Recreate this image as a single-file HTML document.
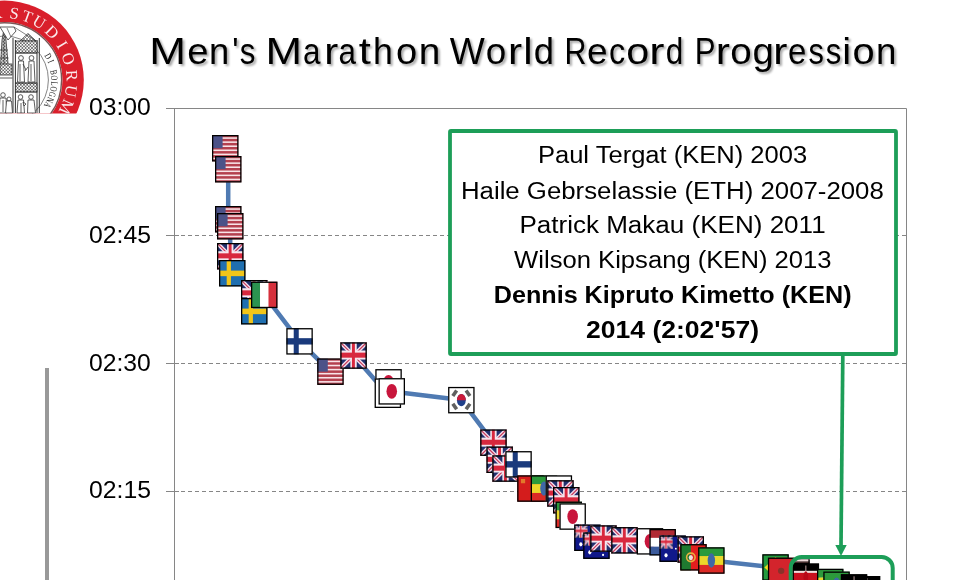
<!DOCTYPE html>
<html><head><meta charset="utf-8">
<style>
html,body{margin:0;padding:0;background:#fff;}
svg{display:block;will-change:transform;}
</style></head><body>
<svg width="960" height="580" viewBox="0 0 960 580">
<defs>
<symbol id="fUSA" viewBox="0 0 100 100" preserveAspectRatio="none"><rect width="100" height="100" fill="#b4404e"/><rect y="8.59" width="100" height="5.89" fill="#f8e4e8"/><rect y="23.98" width="100" height="5.89" fill="#f8e4e8"/><rect y="39.36" width="100" height="5.89" fill="#f8e4e8"/><rect y="54.75" width="100" height="5.89" fill="#f8e4e8"/><rect y="70.13" width="100" height="5.89" fill="#f8e4e8"/><rect y="85.52" width="100" height="5.89" fill="#f8e4e8"/><rect width="40" height="50" fill="#4c5288"/></symbol><symbol id="fUK" viewBox="0 0 100 100" preserveAspectRatio="none"><rect width="100" height="100" fill="#22306e"/><path d="M0,0 L100,100 M100,0 L0,100" stroke="#f0dcea" stroke-width="15"/><path d="M0,0 L100,100 M100,0 L0,100" stroke="#c83a5a" stroke-width="4.5"/><rect x="38" y="0" width="24" height="100" fill="#f6e6ee"/><rect x="0" y="31" width="100" height="34" fill="#f6e6ee"/><rect x="44" y="0" width="11" height="100" fill="#d8283e"/><rect x="0" y="39" width="100" height="19" fill="#d8283e"/></symbol><symbol id="fSWE" viewBox="0 0 100 100" preserveAspectRatio="none"><rect width="100" height="100" fill="#1f6fb0"/><rect x="29" width="16" height="100" fill="#f2c61a"/><rect y="40" width="100" height="21" fill="#f2c61a"/></symbol><symbol id="fITA" viewBox="0 0 100 100" preserveAspectRatio="none"><rect width="100" height="100" fill="#fff"/><rect width="34" height="100" fill="#2b9350"/><rect x="66" width="34" height="100" fill="#d6303c"/></symbol><symbol id="fFIN" viewBox="0 0 100 100" preserveAspectRatio="none"><rect width="100" height="100" fill="#fff"/><rect x="28" width="19" height="100" fill="#1a3a7c"/><rect y="38" width="100" height="24" fill="#1a3a7c"/></symbol><symbol id="fJPN" viewBox="0 0 100 100" preserveAspectRatio="none"><rect width="100" height="100" fill="#fff"/><ellipse cx="50" cy="50" rx="20" ry="28" fill="#c8163c"/></symbol><symbol id="fKOR" viewBox="0 0 100 100" preserveAspectRatio="none"><rect width="100" height="100" fill="#fff"/><ellipse cx="50" cy="50" rx="16.6" ry="23.4" fill="#1f3f8a"/><path d="M33.4,50 A16.6,23.4 0 0 1 66.6,50Z" fill="#cc1a3a"/><rect x="18.2" y="11.5" width="13.6" height="25" fill="#606060" transform="rotate(35 25 24)"/><rect x="68.2" y="11.5" width="13.6" height="25" fill="#606060" transform="rotate(-35 75 24)"/><rect x="18.2" y="61.5" width="13.6" height="25" fill="#606060" transform="rotate(-35 25 74)"/><rect x="68.2" y="61.5" width="13.6" height="25" fill="#606060" transform="rotate(35 75 74)"/></symbol><symbol id="fURS" viewBox="0 0 100 100" preserveAspectRatio="none"><rect width="100" height="100" fill="#d41c1c"/><path d="M14,14 L30,14 L30,30 L14,30Z" fill="#e8a030" opacity="0.7"/></symbol><symbol id="fETH" viewBox="0 0 100 100" preserveAspectRatio="none"><rect width="100" height="34" fill="#2c9a3c"/><rect y="33.3" width="100" height="34" fill="#ecd82a"/><rect y="66.6" width="100" height="33.4" fill="#dc2a26"/><ellipse cx="50" cy="50" rx="14" ry="27" fill="#3f68a6"/></symbol><symbol id="fAUS" viewBox="0 0 100 100" preserveAspectRatio="none"><rect width="100" height="100" fill="#10188a"/><svg width="50" height="50" viewBox="0 0 100 100" preserveAspectRatio="none"><rect width="100" height="100" fill="#22306e"/><path d="M0,0 L100,100 M100,0 L0,100" stroke="#f0dcea" stroke-width="15"/><path d="M0,0 L100,100 M100,0 L0,100" stroke="#c83a5a" stroke-width="4.5"/><rect x="38" y="0" width="24" height="100" fill="#f6e6ee"/><rect x="0" y="31" width="100" height="34" fill="#f6e6ee"/><rect x="44" y="0" width="11" height="100" fill="#d8283e"/><rect x="0" y="39" width="100" height="19" fill="#d8283e"/></svg><ellipse cx="25" cy="75" rx="6" ry="8" fill="#fff"/><circle cx="75" cy="25" r="3.5" fill="#fff"/><circle cx="62" cy="50" r="3.5" fill="#fff"/><circle cx="88" cy="45" r="3.5" fill="#fff"/><circle cx="75" cy="85" r="4" fill="#fff"/></symbol><symbol id="fNED" viewBox="0 0 100 100" preserveAspectRatio="none"><rect width="100" height="34" fill="#b02a34"/><rect y="33.3" width="100" height="34" fill="#fff"/><rect y="66.6" width="100" height="33.4" fill="#3a5a9c"/></symbol><symbol id="fPOR" viewBox="0 0 100 100" preserveAspectRatio="none"><rect width="100" height="100" fill="#e21e1e"/><rect width="40" height="100" fill="#1f7a30"/><circle cx="40" cy="50" r="16" fill="none" stroke="#e8b040" stroke-width="6"/><ellipse cx="40" cy="51" rx="8" ry="10" fill="#f0e0e0"/></symbol><symbol id="fBRA" viewBox="0 0 100 100" preserveAspectRatio="none"><rect width="100" height="100" fill="#239a3e"/><path d="M8,50 L50,10 L92,50 L50,90Z" fill="#f0e020"/><circle cx="50" cy="50" r="20" fill="#203a8a"/></symbol><symbol id="fMAR" viewBox="0 0 100 100" preserveAspectRatio="none"><rect width="100" height="100" fill="#d3242c"/><circle cx="50" cy="50" r="12" fill="#5a3a2a" opacity="0.6"/></symbol><symbol id="fKEN" viewBox="0 0 100 100" preserveAspectRatio="none"><rect width="100" height="100" fill="#000"/><rect y="28" width="100" height="8" fill="#f4dede"/><rect y="36" width="100" height="30" fill="#c8101e"/><rect y="66" width="100" height="8" fill="#f4f4f4"/><rect y="74" width="100" height="26" fill="#1a7a3a"/><path d="M50,8 V95" stroke="#f0c8c8" stroke-width="3"/><ellipse cx="50" cy="52" rx="9" ry="22" fill="#b80818"/></symbol><symbol id="fKEN0" viewBox="0 0 100 100" preserveAspectRatio="none"><rect width="100" height="100" fill="#000"/><rect width="100" height="9" fill="#f0dcdc"/><rect y="9" width="100" height="4" fill="#604040"/><rect y="36" width="100" height="8" fill="#f4dede"/><rect y="44" width="100" height="28" fill="#c8101e"/><rect y="72" width="100" height="8" fill="#f4f4f4"/><rect y="80" width="100" height="20" fill="#1a7a3a"/></symbol>
  <clipPath id="logoclip"><rect x="0" y="0" width="90" height="113.5"/></clipPath>
  <pattern id="hatch3" width="3.2" height="3.2" patternUnits="userSpaceOnUse"><rect width="3.2" height="3.2" fill="#fff"/><path d="M0,3.2 L3.2,0 M0,0 L3.2,3.2" stroke="#333" stroke-width="0.6"/></pattern>
  <pattern id="hatch2" width="2.5" height="2.5" patternUnits="userSpaceOnUse"><rect width="2.5" height="2.5" fill="#fff"/><path d="M0,2.5 L2.5,0 M0,0 L2.5,2.5" stroke="#444" stroke-width="0.7"/></pattern>
  <pattern id="hatch" width="3" height="3" patternUnits="userSpaceOnUse"><path d="M0,3 L3,0 M0,0 L3,3" stroke="#555" stroke-width="0.6"/></pattern>
  <filter id="tshadow" x="-5%" y="-20%" width="110%" height="150%">
    <feGaussianBlur in="SourceAlpha" stdDeviation="1.2"/>
    <feOffset dx="1.5" dy="1.5" result="b"/>
    <feComponentTransfer><feFuncA type="linear" slope="0.35"/></feComponentTransfer>
    <feMerge><feMergeNode/><feMergeNode in="SourceGraphic"/></feMerge>
  </filter>
</defs>
<rect width="960" height="580" fill="#fff"/>

<g clip-path="url(#logoclip)">
  <circle cx="4.4" cy="80" r="79.4" fill="#d91f2b"/>
  <circle cx="4.4" cy="80" r="58" fill="#ffffff"/>
  <circle cx="4.4" cy="80" r="57.2" fill="none" stroke="#7a5555" stroke-width="1.4"/>
  <circle cx="4.4" cy="80" r="44" fill="none" stroke="#666" stroke-width="0.8"/>
  <text x="0" y="5.45" text-anchor="middle" transform="translate(-3.83,13.00) rotate(-7.0) scale(1.0,1)" font-family="Liberation Serif" font-size="16.5" fill="#fbe8ea">R</text><text x="0" y="5.45" text-anchor="middle" transform="translate(14.26,13.22) rotate(8.4) scale(1.0,1)" font-family="Liberation Serif" font-size="16.5" fill="#fbe8ea">S</text><text x="0" y="5.45" text-anchor="middle" transform="translate(27.26,16.49) rotate(19.8) scale(1.0,1)" font-family="Liberation Serif" font-size="16.5" fill="#fbe8ea">T</text><text x="0" y="5.45" text-anchor="middle" transform="translate(39.27,22.20) rotate(31.1) scale(1.0,1)" font-family="Liberation Serif" font-size="16.5" fill="#fbe8ea">U</text><text x="0" y="5.45" text-anchor="middle" transform="translate(51.96,32.10) rotate(44.8) scale(1.0,1)" font-family="Liberation Serif" font-size="16.5" fill="#fbe8ea">D</text><text x="0" y="5.45" text-anchor="middle" transform="translate(62.01,44.83) rotate(58.6) scale(1.0,1)" font-family="Liberation Serif" font-size="16.5" fill="#fbe8ea">I</text><text x="0" y="5.45" text-anchor="middle" transform="translate(68.41,58.58) rotate(71.5) scale(1.0,1)" font-family="Liberation Serif" font-size="16.5" fill="#fbe8ea">O</text><text x="0" y="5.45" text-anchor="middle" transform="translate(71.74,75.29) rotate(86.0) scale(1.0,1)" font-family="Liberation Serif" font-size="16.5" fill="#fbe8ea">R</text><text x="0" y="5.45" text-anchor="middle" transform="translate(70.97,91.14) rotate(99.5) scale(1.0,1)" font-family="Liberation Serif" font-size="16.5" fill="#fbe8ea">U</text><text x="0" y="5.45" text-anchor="middle" transform="translate(66.30,106.92) rotate(113.5) scale(1.0,1)" font-family="Liberation Serif" font-size="16.5" fill="#fbe8ea">M</text>
  <text x="0" y="3.17" text-anchor="middle" transform="translate(48.34,56.14) rotate(61.5) scale(0.72,1)" font-family="Liberation Serif" font-size="9.6" fill="#1a1a1a">D</text><text x="0" y="3.17" text-anchor="middle" transform="translate(50.76,61.27) rotate(68.0) scale(0.72,1)" font-family="Liberation Serif" font-size="9.6" fill="#1a1a1a">I</text><text x="0" y="3.17" text-anchor="middle" transform="translate(52.58,66.64) rotate(74.5) scale(0.72,1)" font-family="Liberation Serif" font-size="9.6" fill="#1a1a1a"> </text><text x="0" y="3.17" text-anchor="middle" transform="translate(53.78,72.18) rotate(81.0) scale(0.72,1)" font-family="Liberation Serif" font-size="9.6" fill="#1a1a1a">B</text><text x="0" y="3.17" text-anchor="middle" transform="translate(54.35,77.82) rotate(87.5) scale(0.72,1)" font-family="Liberation Serif" font-size="9.6" fill="#1a1a1a">O</text><text x="0" y="3.17" text-anchor="middle" transform="translate(54.28,83.49) rotate(94.0) scale(0.72,1)" font-family="Liberation Serif" font-size="9.6" fill="#1a1a1a">L</text><text x="0" y="3.17" text-anchor="middle" transform="translate(53.56,89.11) rotate(100.5) scale(0.72,1)" font-family="Liberation Serif" font-size="9.6" fill="#1a1a1a">O</text><text x="0" y="3.17" text-anchor="middle" transform="translate(52.22,94.62) rotate(107.0) scale(0.72,1)" font-family="Liberation Serif" font-size="9.6" fill="#1a1a1a">G</text><text x="0" y="3.17" text-anchor="middle" transform="translate(50.25,99.94) rotate(113.5) scale(0.72,1)" font-family="Liberation Serif" font-size="9.6" fill="#1a1a1a">N</text><text x="0" y="3.17" text-anchor="middle" transform="translate(47.70,105.00) rotate(120.0) scale(0.72,1)" font-family="Liberation Serif" font-size="9.6" fill="#1a1a1a">A</text>
  <g stroke="#333" stroke-width="0.8" fill="none">
    <path d="M13,113 V38 M39.3,113 V38 M15.4,113 V40 M37,113 V40" stroke-width="1"/>
    <path d="M20,41 L28,33.5 L36,41 Z" fill="url(#hatch)"/>
    <rect x="15.4" y="41" width="21.6" height="12" fill="url(#hatch3)"/>
    <rect x="15.4" y="83" width="21.6" height="9" fill="url(#hatch3)"/>
    <path d="M15,53 H37 M15,83 H37 M15,92 H37"/>
    <g fill="#fff" stroke="#2a2a2a" stroke-width="0.75">
      <circle cx="21" cy="58" r="2.4"/><path d="M18.5,61 h5 l1,21 h-7z M20,64 v17 M23,64 l3,6"/>
      <circle cx="31.5" cy="58" r="2.4"/><path d="M29,61 h5 l1,21 h-7z M31,64 v17 M28,67 l-3,4"/>
      <circle cx="20.5" cy="97" r="2.3"/><path d="M18,100 h5.5 l1,13 h-7.5z M21,103 v10"/>
      <circle cx="31" cy="97" r="2.3"/><path d="M28,100 h6 l1.5,13 h-8z M26,104 l-3,-2 l1,4z"/>
      <circle cx="3" cy="95" r="2.3"/><path d="M0,98 h6 l1,15 h-8z M3,100 v12"/>
      <circle cx="9" cy="99" r="2"/><path d="M6.5,101 h5 l1,12 h-7z"/>
    </g>
    <path d="M0,75 L2,40 L4,29 L6,40 L9,75" fill="url(#hatch3)"/><path d="M0,50 H8 M0,58 H8.5 M4,29 V75"/>
    <rect x="0" y="64" width="12" height="11" fill="url(#hatch3)"/>
    <path d="M0,27 L14,27 L16,31 L8,40 Z" fill="#fff"/>
    <path d="M7,28 L11,37 M14,27 L36,41" stroke-width="0.6"/>
    <path d="M0,78 H12.5"/>
  </g>
</g>
<g font-family="Liberation Sans" fill="#000" filter="url(#tshadow)"><text x="149.32" y="64" font-size="37.5" textLength="36.74" lengthAdjust="spacingAndGlyphs">M</text><text x="187.32" y="64" font-size="37.5" textLength="21.24" lengthAdjust="spacingAndGlyphs">e</text><text x="208.99" y="64" font-size="37.5" textLength="20.22" lengthAdjust="spacingAndGlyphs">n</text><text x="232.21" y="64" font-size="37.5" textLength="6.26" lengthAdjust="spacingAndGlyphs">&apos;</text><text x="239.76" y="64" font-size="37.5" textLength="15.63" lengthAdjust="spacingAndGlyphs">s</text><text x="265.49" y="64" font-size="37.5" textLength="36.55" lengthAdjust="spacingAndGlyphs">M</text><text x="303.11" y="64" font-size="37.5" textLength="17.46" lengthAdjust="spacingAndGlyphs">a</text><text x="324.27" y="64" font-size="37.5" textLength="13.99" lengthAdjust="spacingAndGlyphs">r</text><text x="338.51" y="64" font-size="37.5" textLength="17.46" lengthAdjust="spacingAndGlyphs">a</text><text x="358.85" y="64" font-size="37.5" textLength="12.09" lengthAdjust="spacingAndGlyphs">t</text><text x="372.90" y="64" font-size="37.5" textLength="19.86" lengthAdjust="spacingAndGlyphs">h</text><text x="396.08" y="64" font-size="37.5" textLength="21.19" lengthAdjust="spacingAndGlyphs">o</text><text x="418.88" y="64" font-size="37.5" textLength="21.59" lengthAdjust="spacingAndGlyphs">n</text><text x="449.81" y="64" font-size="37.5" textLength="35.03" lengthAdjust="spacingAndGlyphs">W</text><text x="485.73" y="64" font-size="37.5" textLength="20.49" lengthAdjust="spacingAndGlyphs">o</text><text x="507.94" y="64" font-size="37.5" textLength="14.12" lengthAdjust="spacingAndGlyphs">r</text><text x="523.36" y="64" font-size="37.5" textLength="9.38" lengthAdjust="spacingAndGlyphs">l</text><text x="533.84" y="64" font-size="37.5" textLength="20.27" lengthAdjust="spacingAndGlyphs">d</text><text x="564.47" y="64" font-size="37.5" textLength="21.97" lengthAdjust="spacingAndGlyphs">R</text><text x="587.12" y="64" font-size="37.5" textLength="20.59" lengthAdjust="spacingAndGlyphs">e</text><text x="608.90" y="64" font-size="37.5" textLength="16.21" lengthAdjust="spacingAndGlyphs">c</text><text x="626.15" y="64" font-size="37.5" textLength="22.95" lengthAdjust="spacingAndGlyphs">o</text><text x="649.24" y="64" font-size="37.5" textLength="15.19" lengthAdjust="spacingAndGlyphs">r</text><text x="665.84" y="64" font-size="37.5" textLength="17.55" lengthAdjust="spacingAndGlyphs">d</text><text x="694.80" y="64" font-size="37.5" textLength="20.82" lengthAdjust="spacingAndGlyphs">P</text><text x="715.82" y="64" font-size="37.5" textLength="14.25" lengthAdjust="spacingAndGlyphs">r</text><text x="730.26" y="64" font-size="37.5" textLength="21.43" lengthAdjust="spacingAndGlyphs">o</text><text x="752.56" y="64" font-size="37.5" textLength="21.38" lengthAdjust="spacingAndGlyphs">g</text><text x="773.34" y="64" font-size="37.5" textLength="14.12" lengthAdjust="spacingAndGlyphs">r</text><text x="787.88" y="64" font-size="37.5" textLength="18.34" lengthAdjust="spacingAndGlyphs">e</text><text x="808.38" y="64" font-size="37.5" textLength="15.40" lengthAdjust="spacingAndGlyphs">s</text><text x="825.87" y="64" font-size="37.5" textLength="15.52" lengthAdjust="spacingAndGlyphs">s</text><text x="842.30" y="64" font-size="37.5" textLength="8.89" lengthAdjust="spacingAndGlyphs">i</text><text x="852.61" y="64" font-size="37.5" textLength="22.13" lengthAdjust="spacingAndGlyphs">o</text><text x="875.91" y="64" font-size="37.5" textLength="20.41" lengthAdjust="spacingAndGlyphs">n</text></g>

<g font-family="Liberation Sans" fill="#000"><text x="89.01" y="114.5" font-size="24" textLength="61.81" lengthAdjust="spacingAndGlyphs">03:00</text><text x="89.01" y="242.5" font-size="24" textLength="61.94" lengthAdjust="spacingAndGlyphs">02:45</text><text x="89.01" y="370.5" font-size="24" textLength="61.81" lengthAdjust="spacingAndGlyphs">02:30</text><text x="89.01" y="497.5" font-size="24" textLength="61.94" lengthAdjust="spacingAndGlyphs">02:15</text></g>
<rect x="45" y="368" width="4" height="212" fill="#999"/>

<g stroke="#868686" stroke-width="1" fill="none">
  <path d="M166,108.5 H906.5 V580 M174.5,108.5 V580"/>
  <path d="M166,235.5 H179 M166,363.5 H179 M166,491.5 H179"/>
  <path d="M181,235.5 H906 M181,363.5 H906 M181,491.5 H906" stroke-dasharray="4 3"/>
</g>

<polyline points="225.2,148.2 228.2,169.2 228.2,219.2 230.2,226.2 230.2,256.2 232.2,273.2 254.2,293.2 254.2,311.2 264.2,294.9 299.6,341.4 330.4,371.6 353.6,355.6 387.9,394.8 388.6,382.4 391.8,391.4 461.4,400.1 493.4,442.6 499.6,459.8 505.6,468.6 518.5,464.4 530.5,488.6 544.0,488.6 558.9,488.6 560.5,493.4 566.2,500.2 568.8,514.9 572.6,516.5 587.5,537.8 596.5,545.6 603.5,538.5 624.5,540.4 650.0,541.4 662.6,542.2 672.6,548.6 690.8,549.5 693.5,557.4 711.4,560.5 775.5,567.5 796.5,572.5 781.1,570.9 805.9,576.6 830.2,582.0 836.5,584.8 867.0,589.2 854.0,587.5" fill="none" stroke="#4f7ab2" stroke-width="4.5" stroke-linejoin="round"/>

<use href="#fUSA" x="212.00" y="135.00" width="26.5" height="26.5"/><rect x="212.65" y="135.65" width="25.20" height="25.20" fill="none" stroke="#000" stroke-width="1.3"/>
<use href="#fUSA" x="215.00" y="156.00" width="26.5" height="26.5"/><rect x="215.65" y="156.65" width="25.20" height="25.20" fill="none" stroke="#000" stroke-width="1.3"/>
<use href="#fUSA" x="215.00" y="206.00" width="26.5" height="26.5"/><rect x="215.65" y="206.65" width="25.20" height="25.20" fill="none" stroke="#000" stroke-width="1.3"/>
<use href="#fUSA" x="217.00" y="213.00" width="26.5" height="26.5"/><rect x="217.65" y="213.65" width="25.20" height="25.20" fill="none" stroke="#000" stroke-width="1.3"/>
<use href="#fUK" x="217.00" y="243.00" width="26.5" height="26.5"/><rect x="217.65" y="243.65" width="25.20" height="25.20" fill="none" stroke="#000" stroke-width="1.3"/>
<use href="#fSWE" x="219.00" y="260.00" width="26.5" height="26.5"/><rect x="219.65" y="260.65" width="25.20" height="25.20" fill="none" stroke="#000" stroke-width="1.3"/>
<use href="#fUK" x="241.00" y="280.00" width="26.5" height="26.5"/><rect x="241.65" y="280.65" width="25.20" height="25.20" fill="none" stroke="#000" stroke-width="1.3"/>
<use href="#fSWE" x="241.00" y="298.00" width="26.5" height="26.5"/><rect x="241.65" y="298.65" width="25.20" height="25.20" fill="none" stroke="#000" stroke-width="1.3"/>
<use href="#fITA" x="251.00" y="281.60" width="26.5" height="26.5"/><rect x="251.65" y="282.25" width="25.20" height="25.20" fill="none" stroke="#000" stroke-width="1.3"/>
<use href="#fFIN" x="286.30" y="328.10" width="26.5" height="26.5"/><rect x="286.95" y="328.75" width="25.20" height="25.20" fill="none" stroke="#000" stroke-width="1.3"/>
<use href="#fUSA" x="317.20" y="358.40" width="26.5" height="26.5"/><rect x="317.85" y="359.05" width="25.20" height="25.20" fill="none" stroke="#000" stroke-width="1.3"/>
<use href="#fUK" x="340.30" y="342.30" width="26.5" height="26.5"/><rect x="340.95" y="342.95" width="25.20" height="25.20" fill="none" stroke="#000" stroke-width="1.3"/>
<use href="#fJPN" x="375.30" y="369.10" width="26.5" height="26.5"/><rect x="375.95" y="369.75" width="25.20" height="25.20" fill="none" stroke="#000" stroke-width="1.3"/>
<use href="#fJPN" x="374.60" y="378.40" width="26.5" height="29.6"/><rect x="375.25" y="379.05" width="25.20" height="28.30" fill="none" stroke="#000" stroke-width="1.3"/>
<use href="#fJPN" x="378.50" y="378.10" width="26.5" height="26.5"/><rect x="379.15" y="378.75" width="25.20" height="25.20" fill="none" stroke="#000" stroke-width="1.3"/>
<use href="#fKOR" x="448.10" y="386.90" width="26.5" height="26.5"/><rect x="448.75" y="387.55" width="25.20" height="25.20" fill="none" stroke="#000" stroke-width="1.3"/>
<use href="#fUK" x="480.20" y="429.40" width="26.5" height="26.5"/><rect x="480.85" y="430.05" width="25.20" height="25.20" fill="none" stroke="#000" stroke-width="1.3"/>
<use href="#fUK" x="486.40" y="446.50" width="26.5" height="26.5"/><rect x="487.05" y="447.15" width="25.20" height="25.20" fill="none" stroke="#000" stroke-width="1.3"/>
<use href="#fUK" x="492.30" y="455.30" width="26.5" height="26.5"/><rect x="492.95" y="455.95" width="25.20" height="25.20" fill="none" stroke="#000" stroke-width="1.3"/>
<use href="#fFIN" x="505.30" y="451.10" width="26.5" height="26.5"/><rect x="505.95" y="451.75" width="25.20" height="25.20" fill="none" stroke="#000" stroke-width="1.3"/>
<use href="#fURS" x="517.20" y="475.30" width="26.5" height="26.5"/><rect x="517.85" y="475.95" width="25.20" height="25.20" fill="none" stroke="#000" stroke-width="1.3"/>
<use href="#fETH" x="530.70" y="475.30" width="26.5" height="26.5"/><rect x="531.35" y="475.95" width="25.20" height="25.20" fill="none" stroke="#000" stroke-width="1.3"/>
<use href="#fJPN" x="545.60" y="475.30" width="26.5" height="26.5"/><rect x="546.25" y="475.95" width="25.20" height="25.20" fill="none" stroke="#000" stroke-width="1.3"/>
<use href="#fUK" x="547.20" y="480.20" width="26.5" height="26.5"/><rect x="547.85" y="480.85" width="25.20" height="25.20" fill="none" stroke="#000" stroke-width="1.3"/>
<use href="#fUK" x="553.00" y="487.00" width="26.5" height="26.5"/><rect x="553.65" y="487.65" width="25.20" height="25.20" fill="none" stroke="#000" stroke-width="1.3"/>
<use href="#fETH" x="555.50" y="501.60" width="26.5" height="26.5"/><rect x="556.15" y="502.25" width="25.20" height="25.20" fill="none" stroke="#000" stroke-width="1.3"/>
<use href="#fJPN" x="559.40" y="503.30" width="26.5" height="26.5"/><rect x="560.05" y="503.95" width="25.20" height="25.20" fill="none" stroke="#000" stroke-width="1.3"/>
<use href="#fAUS" x="574.20" y="524.50" width="26.5" height="26.5"/><rect x="574.85" y="525.15" width="25.20" height="25.20" fill="none" stroke="#000" stroke-width="1.3"/>
<use href="#fAUS" x="583.20" y="532.40" width="26.5" height="26.5"/><rect x="583.85" y="533.05" width="25.20" height="25.20" fill="none" stroke="#000" stroke-width="1.3"/>
<use href="#fUK" x="590.20" y="525.30" width="26.5" height="26.5"/><rect x="590.85" y="525.95" width="25.20" height="25.20" fill="none" stroke="#000" stroke-width="1.3"/>
<use href="#fUK" x="611.20" y="527.10" width="26.5" height="26.5"/><rect x="611.85" y="527.75" width="25.20" height="25.20" fill="none" stroke="#000" stroke-width="1.3"/>
<use href="#fJPN" x="636.70" y="528.10" width="26.5" height="26.5"/><rect x="637.35" y="528.75" width="25.20" height="25.20" fill="none" stroke="#000" stroke-width="1.3"/>
<use href="#fNED" x="649.40" y="529.00" width="26.5" height="26.5"/><rect x="650.05" y="529.65" width="25.20" height="25.20" fill="none" stroke="#000" stroke-width="1.3"/>
<use href="#fAUS" x="659.40" y="535.40" width="26.5" height="26.5"/><rect x="660.05" y="536.05" width="25.20" height="25.20" fill="none" stroke="#000" stroke-width="1.3"/>
<use href="#fUK" x="677.50" y="536.25" width="26.5" height="26.5"/><rect x="678.15" y="536.90" width="25.20" height="25.20" fill="none" stroke="#000" stroke-width="1.3"/>
<use href="#fPOR" x="680.25" y="544.10" width="26.5" height="26.5"/><rect x="680.90" y="544.75" width="25.20" height="25.20" fill="none" stroke="#000" stroke-width="1.3"/>
<use href="#fETH" x="698.10" y="547.25" width="26.5" height="26.5"/><rect x="698.75" y="547.90" width="25.20" height="25.20" fill="none" stroke="#000" stroke-width="1.3"/>
<use href="#fBRA" x="762.30" y="554.25" width="26.5" height="26.5"/><rect x="762.95" y="554.90" width="25.20" height="25.20" fill="none" stroke="#000" stroke-width="1.3"/>
<use href="#fKEN0" x="783.20" y="559.25" width="26.5" height="26.5"/><path d="M783.85,559.25 V585.10 H809.05 V559.25" fill="none" stroke="#000" stroke-width="1.3"/>
<use href="#fMAR" x="767.90" y="557.60" width="26.5" height="26.5"/><rect x="768.55" y="558.25" width="25.20" height="25.20" fill="none" stroke="#000" stroke-width="1.3"/>
<use href="#fKEN" x="792.60" y="563.40" width="26.5" height="26.5"/><rect x="793.25" y="564.05" width="25.20" height="25.20" fill="none" stroke="#000" stroke-width="1.3"/>
<use href="#fETH" x="817.00" y="568.75" width="26.5" height="26.5"/><rect x="817.65" y="569.40" width="25.20" height="25.20" fill="none" stroke="#000" stroke-width="1.3"/>
<use href="#fETH" x="823.30" y="571.50" width="26.5" height="26.5"/><rect x="823.95" y="572.15" width="25.20" height="25.20" fill="none" stroke="#000" stroke-width="1.3"/>
<use href="#fKEN" x="853.80" y="576.00" width="26.5" height="26.5"/><rect x="854.45" y="576.65" width="25.20" height="25.20" fill="none" stroke="#000" stroke-width="1.3"/>
<use href="#fKEN" x="840.80" y="574.20" width="26.5" height="26.5"/><rect x="841.45" y="574.85" width="25.20" height="25.20" fill="none" stroke="#000" stroke-width="1.3"/>

<rect x="450" y="131" width="446" height="223" rx="1" fill="#fff" stroke="#1d9e58" stroke-width="3.8"/>
<g font-family="Liberation Sans" fill="#000"><text x="537.96" y="162.9" font-size="23" textLength="269.15" lengthAdjust="spacingAndGlyphs">Paul Tergat (KEN) 2003</text><text x="460.94" y="198.5" font-size="23" textLength="422.85" lengthAdjust="spacingAndGlyphs">Haile Gebrselassie (ETH) 2007-2008</text><text x="519.42" y="232.9" font-size="23" textLength="306.23" lengthAdjust="spacingAndGlyphs">Patrick Makau (KEN) 2011</text><text x="514.07" y="268.1" font-size="23" textLength="317.55" lengthAdjust="spacingAndGlyphs">Wilson Kipsang (KEN) 2013</text><text x="493.76" y="302.9" font-size="23" textLength="357.82" lengthAdjust="spacingAndGlyphs" font-weight="bold">Dennis Kipruto Kimetto (KEN)</text><text x="586.07" y="337.5" font-size="23" textLength="172.96" lengthAdjust="spacingAndGlyphs" font-weight="bold">2014 (2:02&apos;57)</text></g>
<path d="M842.8,356 L841,546" stroke="#1d9e58" stroke-width="3.7"/>
<path d="M835.3,545 L846.7,545 L841,556 Z" fill="#1d9e58"/>
<rect x="790.7" y="557" width="102" height="60" rx="11" ry="11" fill="none" stroke="#1d9e58" stroke-width="4"/>
</svg>
</body></html>
